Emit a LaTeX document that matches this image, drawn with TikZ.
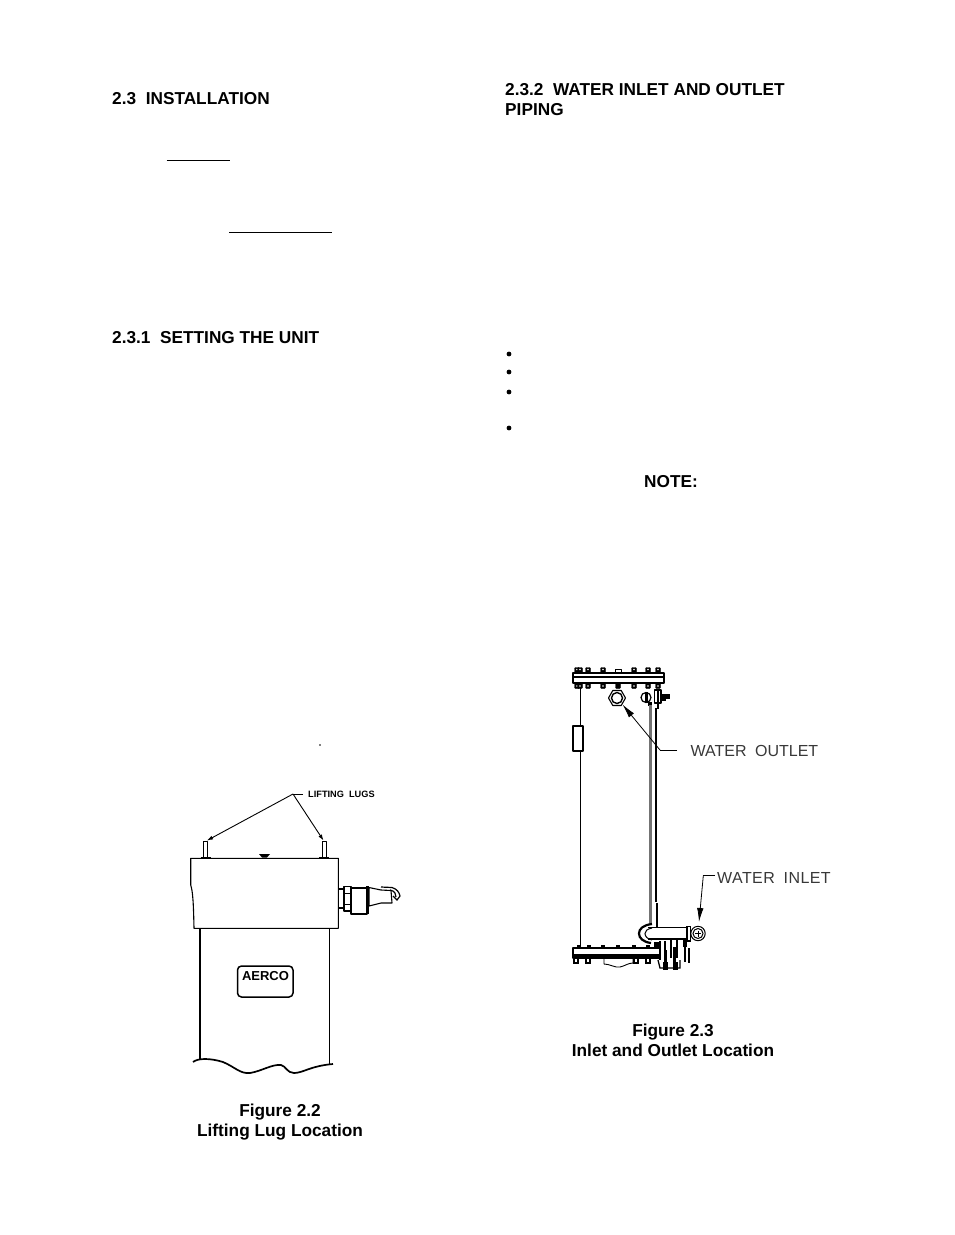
\documentclass[tikz,border=0pt]{standalone}
\usepackage{fontspec}
\setmainfont{Liberation Sans}
\newfontfamily\cadfont{Liberation Sans}
\newfontfamily\cadwide[LetterSpace=2.6]{Liberation Sans}
\usetikzlibrary{arrows.meta}
\tikzset{
  headtext/.style={font=\fontsize{17.25}{18}\selectfont\bfseries,anchor=base west,inner sep=0pt},
  captext/.style={font=\fontsize{17.25}{18}\selectfont\bfseries,anchor=base,inner sep=0pt},
  cadtext/.style={font=\fontsize{16}{18}\selectfont\cadfont,text=black!78,anchor=base west,inner sep=0pt},
  cadwidetext/.style={font=\fontsize{16}{18}\selectfont\cadwide,text=black!78,anchor=base west,inner sep=0pt},
  lugtext/.style={font=\fontsize{9.2}{10}\selectfont\bfseries,anchor=base west,inner sep=0pt},
  ln/.style={line width=1.1pt,line join=round},
  thinln/.style={line width=0.9pt,line join=round},
  leader/.style={line width=0.8pt},
  arr/.style={line width=0.8pt,-{Latex[length=14pt,width=6.5pt]}},
  lugarr/.style={line width=0.9pt,-{Latex[length=6pt,width=4pt]}},
  bolt/.style={fill=black,rounded corners=0.8pt},
}
\begin{document}
\begin{tikzpicture}[x=1pt,y=-1pt]
\useasboundingbox (0,0) rectangle (954,1235);
% --- page text
\node[headtext] (h1) at (112,104) {2.3\ \ INSTALLATION};
\node[headtext] (h2) at (112,343) {2.3.1\ \ SETTING THE UNIT};
\node[headtext] (h3) at (505,95) {2.3.2\ \ WATER INLET AND OUTLET};
\node[headtext] (h4) at (505,115) {PIPING};
\node[headtext] (note) at (644,487) {NOTE:};
\node[captext] (f2a) at (280,1116) {Figure 2.2};
\node[captext] (f2b) at (280,1136) {Lifting Lug Location};
\node[captext] (f3a) at (673,1036) {Figure 2.3};
\node[captext] (f3b) at (673,1056) {Inlet and Outlet Location};
\draw[line width=1pt] (166.7,160) -- (230,160);
\draw[line width=1pt] (229,232.3) -- (332,232.3);
\foreach \yy in {354,372,392,428} \fill (509,\yy) circle (2.4);
\fill (320,745) circle (0.9);
% --- Figure 2.2
\draw[ln] (190.7,858.3) -- (338.3,858.3) -- (338.3,928.3) -- (194,928.3)
  .. controls (193.5,905) and (193,892) .. (190.7,885) -- cycle;
\draw[ln] (200,928.3) -- (200,1059);
\draw[ln] (329.3,928.3) -- (329.3,1065);
\draw[line width=1.7pt] (193,1062) .. controls (198,1058) and (210,1058) .. (223,1062)
  .. controls (235,1067) and (240,1074) .. (250,1073)
  .. controls (262,1071) and (272,1064) .. (281,1065)
  .. controls (286,1066) and (287,1073) .. (294,1073)
  .. controls (303,1073) and (310,1066) .. (333,1064);
\draw[line width=1.5pt,rounded corners=4pt] (237.5,966) rectangle (293,997);
\node[font=\fontsize{13}{13}\selectfont\bfseries,inner sep=0pt] (logo) at (265.5,976) {AERCO};
% lugs
\draw[thinln] (203.5,857) -- (203.5,841) -- (207,841) -- (207,857);
\draw[thinln] (322.7,857) -- (322.7,841) -- (326.7,841) -- (326.7,857);
\draw[line width=1.4pt] (200.5,857.5) -- (210.7,857.5);
\draw[line width=1.4pt] (319,857.5) -- (329,857.5);
\fill (259,854) -- (270,854) -- (267,857.5) -- (262,857.5) -- cycle;
\coordinate (lugfork) at (293,794);
\coordinate (lugleft) at (207,840.5);
\coordinate (lugright) at (323.5,840.5);
\coordinate (lugend) at (303,794);
\draw[leader] (lugend) -- (lugfork);
\draw[lugarr] (lugfork) -- (lugleft);
\draw[lugarr] (lugfork) -- (lugright);
\node[lugtext] (lugs) at (308,797.5) {LIFTING\ \ LUGS};
% relief valve
\draw[ln] (338.3,889) -- (344,889) -- (344,908) -- (338.3,908);
\draw[ln,fill=white] (344,886.5) -- (351,886.5) -- (351,911) -- (344,911) -- cycle;
\draw[thinln] (344,893) -- (351,893) (344,904) -- (351,904);
\draw[ln] (351,888) -- (367,888) -- (367,914) -- (351,914) -- (351,888);
\draw[line width=2.4pt] (367.5,886) -- (367.5,914);
\draw[ln] (369,887.5) -- (381,890) -- (391,890.5) -- (392,903) -- (381,903) -- (369,906) -- cycle;
\draw[line width=1.2pt] (381,887) -- (392,887.5) .. controls (397,889) and (399,892) .. (400,896) -- (397,900) -- (393,896);
\draw[line width=1.2pt] (390,890) .. controls (395,891) and (396,894) .. (396,897);
% --- Figure 2.3: vessel
\draw[ln] (580.7,683) -- (580.7,726) (580.7,751) -- (580.7,948);
\draw[ln] (573,726) rectangle (583,751);
% top flange
\draw[ln] (573,673) rectangle (664,683);
\draw[line width=1.8pt] (573,677) -- (664,677);
\foreach \bx in {577,580,588,603,634,648,658} {
  \draw[bolt] (\bx-2.5,667.5) rectangle (\bx+2.5,673);
  \draw[bolt] (\bx-2.5,683) rectangle (\bx+2.5,688.5);
  \fill[white] (\bx,669.5) circle (0.8);
  \fill[white] (\bx,686) circle (0.8);
}
\draw[thinln] (615,669) rectangle (621,673);
\draw[bolt] (615.5,683) rectangle (620.5,688.5);
% outlet nozzle
\draw[ln] (625.5,698) -- (621.2,705.5) -- (612.8,705.5) -- (608.5,698) -- (612.8,690.5) -- (621.2,690.5) -- cycle;
\draw[line width=1.4pt] (617,698) circle (5.5);
% gauge valve
\draw[line width=1.2pt] (646,697.5) circle (5);
\fill (645,692) rectangle (648,703);
\fill (648,702) rectangle (652,706);
\draw[ln] (654.5,690) rectangle (661,703);
\fill (657,690) rectangle (659,709);
\fill (661,694) rectangle (670,699);
\fill (662,699) rectangle (666,701);
% tube
\fill[black!55] (649,705) rectangle (652,925);
\draw[ln] (656,708) -- (656,902);
\draw[ln] (657,903) -- (657,927);
% bottom flange
\draw[ln] (573,948) rectangle (660,958);
\draw[line width=2.2pt] (573,955.5) -- (660,955.5);
\foreach \bx in {579,589,603,618,634,648} \fill (\bx-2,944.5) rectangle (\bx+2,948);
\foreach \bx in {576,588} \draw[line width=1.2pt] (\bx-2,958) rectangle (\bx+2,963);
\foreach \bx in {636,648} \draw[line width=1.2pt] (\bx-2,958) rectangle (\bx+2,963);
\draw[thinln] (604,958) -- (604,964) .. controls (610,964) and (615,968) .. (620,967)
  .. controls (625,966) and (628,963) .. (633,963) -- (633,958);
% inlet pipe
\draw[ln] (648,927.5) -- (687,927.5) (648,939) -- (687,939);
\draw[line width=1.2pt,fill=white] (687,926.5) rectangle (690.5,941);
\draw[line width=1pt] (698,933.5) circle (7.2);
\draw[line width=1pt] (698,933.5) circle (5);
\draw[line width=1pt] (695,933.5) -- (701,933.5) (698,930.5) -- (698,936.5);
% elbow
\draw[line width=2.2pt] (652,924) .. controls (643,925) and (639,929) .. (639,933.5) .. controls (639,938) and (643,942) .. (651,943);
\draw[line width=1pt] (652,928) .. controls (647,929) and (645,931) .. (645,933.5) .. controls (645,936) and (647,939) .. (652,940);
% manifold under the pipe
\draw[ln] (660,941) -- (660,960) (665,941) -- (665,960);
\draw[ln] (671,939) -- (671,958) (677,939) -- (677,958);
\fill (654,942) rectangle (661,947);
\fill (683,939) rectangle (687,947);
\fill (664,950) rectangle (667,962);
\fill (673,947) rectangle (676,962);
\draw[line width=1.3pt] (658,960) -- (660,968) -- (680,968) -- (680,960);
\fill (663,962) rectangle (668,970);
\fill (673,962) rectangle (678,970);
\draw[ln] (685,947) -- (685,962);
\draw[line width=1.4pt] (689,948) -- (689,963);
% labels and leaders
\node[cadtext] (wo) at (690.5,756) {WATER\hspace{4pt} OUTLET};
\node[cadwidetext] (wi) at (717,883) {WATER\hspace{4pt} INLET};
\coordinate (oa) at (677,750);
\coordinate (ob) at (660,750);
\coordinate (oc) at (622.5,704.5);
\draw[leader] (oa) -- (ob);
\draw[arr] (ob) -- (oc);
\coordinate (ia) at (715,875.7);
\coordinate (ib) at (703.3,875.7);
\coordinate (ic) at (699,922);
\draw[leader] (ia) -- (ib);
\draw[arr] (ib) -- (ic);
\end{tikzpicture}
\end{document}
